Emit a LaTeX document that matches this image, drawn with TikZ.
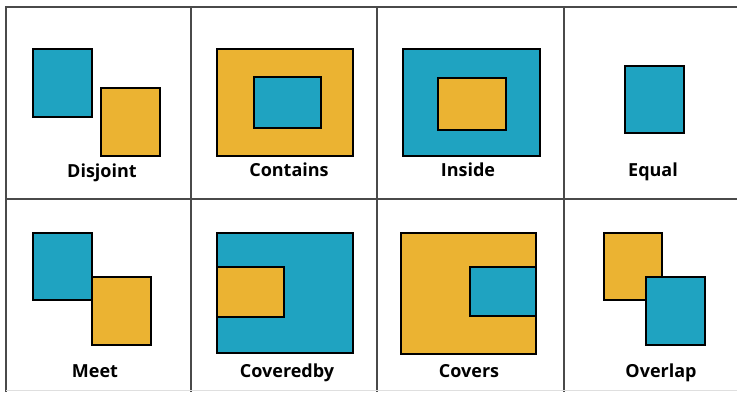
\documentclass[tikz,border=0pt]{standalone}
\usepackage{fontspec}
\setmainfont{Open Sans}
\definecolor{cblue}{HTML}{1FA3C1}
\definecolor{cyell}{HTML}{EBB332}
\definecolor{gridc}{HTML}{4A4A4A}
\tikzset{
  bl/.style={fill=cblue,draw=black,line width=2pt},
  yl/.style={fill=cyell,draw=black,line width=2pt},
  gridline/.style={draw=gridc,line width=1.8pt},
  lbl/.style={font=\fontsize{18}{21}\selectfont\bfseries,inner sep=0pt,anchor=base}
}
\begin{document}
\begin{tikzpicture}[x=1pt,y=-1pt]
\useasboundingbox (0,0) rectangle (737,392);
\fill[white] (0,0) rectangle (737,392);
% grid
\draw[gridline] (737,7) -- (6,7) -- (6,392);
\draw[gridline] (6,199) -- (737,199);
\draw[gridline] (191,7) -- (191,392);
\draw[gridline] (377,7) -- (377,392);
\draw[gridline] (564,7) -- (564,392);
\draw[draw=gray!25,line width=1pt] (6,390.5) -- (737,390.5);
% Disjoint
\draw[bl] (33,49) rectangle (92,117);
\draw[yl] (101,88) rectangle (160,156);
\node[lbl] (l1) at (102,177) {Disjoint};
% Contains
\draw[yl] (217,49) rectangle (353,156);
\draw[bl] (254,77) rectangle (321,128);
\node[lbl] (l2) at (289,176) {Contains};
% Inside
\draw[bl] (403,49) rectangle (540,156);
\draw[yl] (438,78) rectangle (506,130);
\node[lbl] (l3) at (468,176) {Inside};
% Equal
\draw[bl] (625,66) rectangle (684,133);
\node[lbl] (l4) at (653,176) {Equal};
% Meet
\draw[bl] (33,233) rectangle (92,300);
\draw[yl] (92,277) rectangle (151,345);
\node[lbl] (l5) at (95,377) {Meet};
% Coveredby
\draw[bl] (217,233) rectangle (353,353);
\draw[yl] (217,267) rectangle (284,317);
\node[lbl] (l6) at (287,377) {Coveredby};
% Covers
\draw[yl] (401,233) rectangle (536,354);
\draw[bl] (470,267) rectangle (536,316);
\node[lbl] (l7) at (469,377) {Covers};
% Overlap
\draw[yl] (604,233) rectangle (662,300);
\draw[bl] (646,277) rectangle (705,345);
\node[lbl] (l8) at (661,377) {Overlap};
\end{tikzpicture}
\end{document}
